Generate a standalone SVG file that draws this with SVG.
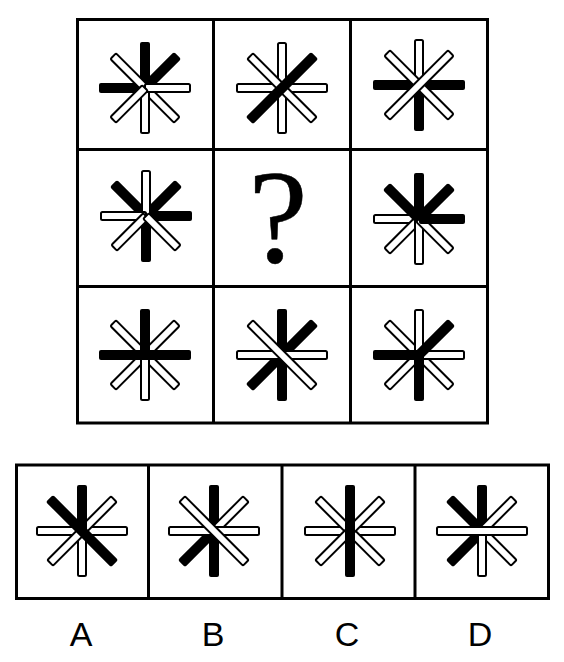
<svg xmlns="http://www.w3.org/2000/svg" xmlns:xlink="http://www.w3.org/1999/xlink" width="564" height="662" viewBox="0 0 564 662">
<style>
.grid{fill:none;stroke:#000;stroke-width:3}
.b{fill:#000}
.w{fill:#fff;stroke:#000;stroke-width:2}
.lbl{font-family:"Liberation Sans",Arial,sans-serif;font-size:34px;fill:#000;text-anchor:middle}
.q{font-family:"Liberation Serif","Times New Roman",serif;font-size:134px;fill:#000;stroke:#000;stroke-width:0.5;text-anchor:middle}
</style>
<defs>
<rect id="hb" class="b" x="-5" y="-46" width="10" height="46" rx="2"/>
<rect id="hw" class="w" x="-4" y="-45" width="8" height="45" rx="1.5"/>
<rect id="fb" class="b" x="-5" y="-46" width="10" height="92" rx="2"/>
<rect id="fw" class="w" x="-4" y="-45" width="8" height="90" rx="1.5"/>
</defs>
<rect width="564" height="662" fill="#fff"/>
<g id="grid">
<rect class="grid" x="77.5" y="19.5" width="410" height="403.5"/>
<line class="grid" x1="213.5" y1="19.5" x2="213.5" y2="423"/>
<line class="grid" x1="350.5" y1="19.5" x2="350.5" y2="423"/>
<line class="grid" x1="77.5" y1="149.5" x2="487.5" y2="149.5"/>
<line class="grid" x1="77.5" y1="286.5" x2="487.5" y2="286.5"/>
</g>
<g id="options-frame">
<rect class="grid" x="16.5" y="465" width="532" height="133.5"/>
<line class="grid" x1="148.5" y1="465" x2="148.5" y2="598.5"/>
<line class="grid" x1="282" y1="465" x2="282" y2="598.5"/>
<line class="grid" x1="415" y1="465" x2="415" y2="598.5"/>
</g>
<g id="cell-1-1" transform="translate(145,88)">
<use href="#hb"/><use href="#hb" transform="rotate(45)"/><use href="#hb" transform="rotate(270)"/>
<use href="#fw" transform="rotate(-45)"/>
<use href="#hw" transform="rotate(180)"/><use href="#hw" transform="rotate(90)"/><use href="#hw" transform="rotate(225)"/>
</g>
<g id="cell-1-2" transform="translate(282,88)">
<use href="#fw"/><use href="#fw" transform="rotate(90)"/><use href="#fw" transform="rotate(-45)"/>
<use href="#fb" transform="rotate(45)"/>
</g>
<g id="cell-1-3" transform="translate(419,85)">
<use href="#fb" transform="rotate(90)"/><use href="#hb" transform="rotate(180)"/>
<use href="#hw"/>
<use href="#fw" transform="rotate(-45)"/><use href="#fw" transform="rotate(45)"/>
</g>
<g id="cell-2-1" transform="translate(146,216)">
<use href="#hb" transform="rotate(315)"/><use href="#hb" transform="rotate(45)"/><use href="#hb" transform="rotate(90)"/><use href="#hb" transform="rotate(180)"/>
<use href="#hw"/><use href="#hw" transform="rotate(270)"/><use href="#hw" transform="rotate(225)"/><use href="#hw" transform="rotate(135)"/>
</g>
<g id="cell-2-2">
<text class="q" x="278" y="262">?</text>
</g>
<g id="cell-2-3" transform="translate(419,219)">
<use href="#hw" transform="rotate(270)"/><use href="#hw" transform="rotate(225)"/><use href="#hw" transform="rotate(180)"/><use href="#hw" transform="rotate(135)"/>
<use href="#hb"/><use href="#hb" transform="rotate(315)"/><use href="#hb" transform="rotate(45)"/><use href="#hb" transform="rotate(90)"/>
</g>
<g id="cell-3-1" transform="translate(145,355)">
<use href="#fw" transform="rotate(-45)"/><use href="#fw" transform="rotate(45)"/><use href="#hw" transform="rotate(180)"/>
<use href="#hb"/><use href="#fb" transform="rotate(90)"/>
</g>
<g id="cell-3-2" transform="translate(282,355)">
<use href="#fb"/><use href="#fb" transform="rotate(45)"/>
<use href="#fw" transform="rotate(90)"/><use href="#fw" transform="rotate(-45)"/>
</g>
<g id="cell-3-3" transform="translate(419,355)">
<use href="#fw" transform="rotate(-45)"/><use href="#hw" transform="rotate(225)"/><use href="#hw"/><use href="#hw" transform="rotate(90)"/>
<use href="#hb" transform="rotate(270)"/><use href="#hb" transform="rotate(45)"/><use href="#hb" transform="rotate(180)"/>
</g>
<g id="option-A" transform="translate(82,531)">
<use href="#hw" transform="rotate(180)"/><use href="#fw" transform="rotate(90)"/><use href="#fw" transform="rotate(45)"/>
<use href="#hb"/><use href="#fb" transform="rotate(-45)"/>
</g>
<g id="option-B" transform="translate(214,531)">
<use href="#fb"/><use href="#hb" transform="rotate(225)"/>
<use href="#hw" transform="rotate(45)"/><use href="#fw" transform="rotate(90)"/><use href="#fw" transform="rotate(-45)"/>
</g>
<g id="option-C" transform="translate(350,531)">
<use href="#fw" transform="rotate(90)"/><use href="#fw" transform="rotate(-45)"/><use href="#fw" transform="rotate(45)"/>
<use href="#fb"/>
</g>
<g id="option-D" transform="translate(482,531)">
<use href="#hb"/><use href="#hb" transform="rotate(315)"/><use href="#hb" transform="rotate(225)"/>
<use href="#hw" transform="rotate(45)"/><use href="#hw" transform="rotate(135)"/><use href="#hw" transform="rotate(180)"/>
<use href="#fw" transform="rotate(90)"/>
</g>
<g id="labels">
<text class="lbl" x="81" y="646">A</text>
<text class="lbl" x="213" y="646">B</text>
<text class="lbl" x="347" y="646">C</text>
<text class="lbl" x="480" y="646">D</text>
</g>
</svg>
